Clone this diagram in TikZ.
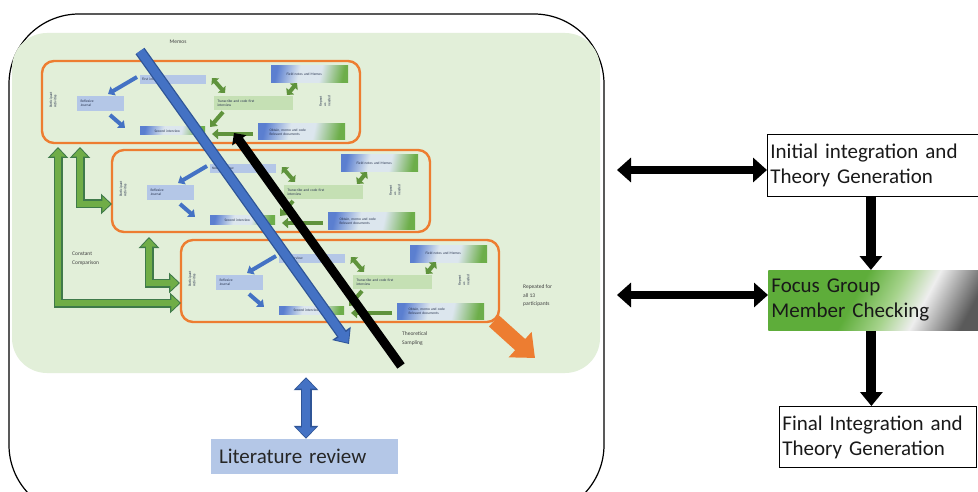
\documentclass[tikz,border=0pt]{standalone}
\usepackage{fontspec}
\setmainfont{Carlito}
\usetikzlibrary{arrows.meta}
\definecolor{procgreen}{HTML}{E2EFD9}
\definecolor{orangeln}{HTML}{ED7D31}
\definecolor{lblue}{HTML}{B4C7E7}
\definecolor{lgreen}{HTML}{C5E0B4}
\definecolor{ablue}{HTML}{4472C4}
\definecolor{ablueD}{HTML}{2F5597}
\definecolor{agreen}{HTML}{70AD47}
\definecolor{agreenD}{HTML}{3F7A4A}
\definecolor{txtgray}{HTML}{404040}
\definecolor{txtdark}{HTML}{2A3550}
\definecolor{shB}{HTML}{5B7FD0}
\definecolor{shM}{HTML}{DCE6EE}
\definecolor{shG}{HTML}{6DAE4A}
\definecolor{fcG}{HTML}{5EAD3A}
\definecolor{fcGl}{HTML}{A6D38C}
\definecolor{fcW}{HTML}{EEEEEE}
\definecolor{fcD}{HTML}{5A5A5A}
\pgfdeclarehorizontalshading{bgshade}{100bp}{color(0bp)=(shB); color(25bp)=(shB); color(42bp)=(shM); color(58bp)=(shM); color(75bp)=(shG); color(100bp)=(shG)}
\pgfdeclarehorizontalshading{focusshade}{100bp}{color(0bp)=(fcG); color(25bp)=(fcG); color(44bp)=(fcG); color(55bp)=(fcGl); color(64bp)=(fcW); color(78bp)=(fcD); color(100bp)=(fcD)}
\newcommand\tinyfnt{\fontsize{3.6}{4.2}\selectfont}
\newcommand\stagebox[4]{%
\begin{scope}[shift={(#2,#3)}]
\node[obox] (st#1) at (201,102) {};
\node[lbbox, minimum width=66pt, minimum height=9pt, text width=62pt] (fi#1) at (173,79.5) {#4};
\node[lbbox, minimum width=47pt, minimum height=15pt, text width=40pt] (rj#1) at (100.5,103.5) {Reflexive\\Journal};
\node[lgbox, minimum width=79pt, minimum height=14pt, text width=72pt] (tc#1) at (253.5,103) {Transcribe and code first\\interview};
\node[grbox, minimum width=77pt, minimum height=17pt, text width=62pt] (fn#1) at (309.5,74.5) {\hspace*{8pt}Field notes and Memos};
\node[grbox, minimum width=87pt, minimum height=16pt, text width=76pt] (ob#1) at (301.5,132) {\hspace*{6pt}Obtain, memo and code\\\hspace*{6pt}Relevant documents};
\node[grbox, minimum width=65pt, minimum height=8pt, text width=56pt] (si#1) at (172.5,131) {\hspace*{10pt}Second interview};
\node[tinytxt, rotate=90] (pa#1) at (53,100) {Participant\\Activities};
\node[tinytxt, rotate=90] (rp#1) at (325,101) {Repeat\\as\\needed};
\coordinate (a1s#1) at (137,77); \coordinate (a1e#1) at (108,94);
\coordinate (a2s#1) at (110,115); \coordinate (a2e#1) at (125,128);
\coordinate (g1s#1) at (212,78); \coordinate (g1e#1) at (225,93);
\coordinate (g2s#1) at (287,95); \coordinate (g2e#1) at (297,83);
\coordinate (g3s#1) at (223,112); \coordinate (g3e#1) at (210,127);
\coordinate (g4s#1) at (253,134); \coordinate (g4e#1) at (212,134);
\draw[sba] (a1s#1) -- (a1e#1);
\draw[sba] (a2s#1) -- (a2e#1);
\draw[sgd] (g1s#1) -- (g1e#1);
\draw[sgd] (g2s#1) -- (g2e#1);
\draw[sga] (g3s#1) -- (g3e#1);
\draw[sga] (g4s#1) -- (g4e#1);
\end{scope}}
\begin{document}
\begin{tikzpicture}[x=1pt,y=-1pt,
  obox/.style={draw=orangeln, line width=2.4pt, rounded corners=12pt, minimum width=318pt, minimum height=82pt, inner sep=0pt},
  lbbox/.style={fill=lblue, inner sep=2pt, font=\tinyfnt, text=txtdark, align=left},
  lgbox/.style={fill=lgreen, inner sep=2pt, font=\tinyfnt, text=txtdark, align=left},
  grbox/.style={shading=bgshade, shading angle=-12, inner sep=2pt, font=\tinyfnt, text=txtdark, align=left},
  tinytxt/.style={font=\tinyfnt, text=txtdark, align=left, inner sep=0pt},
  sba/.style={draw=ablue, line width=4pt, -{Triangle[width=10pt,length=6pt]}},
  sga/.style={draw=agreen!85!black, line width=4pt, -{Triangle[width=10pt,length=6pt]}},
  sgd/.style={draw=agreen!85!black, line width=4pt, {Triangle[width=10pt,length=5pt]}-{Triangle[width=10pt,length=5pt]}},
  lbl/.style={font=\fontsize{5.5}{8.5}\selectfont, text=txtgray, inner sep=0pt, align=left},
  gelbO/.style={draw=agreenD, line width=9pt, {Triangle[width=20pt,length=11pt]}-{Triangle[width=20pt,length=11pt]}},
  gelbI/.style={draw=agreen, line width=6pt, {Triangle[width=15pt,length=8pt]}-{Triangle[width=15pt,length=8pt]}, shorten <=1.6pt, shorten >=1.6pt},
  rbox/.style={draw=black, line width=0.8pt, font=\fontsize{21}{25}\selectfont, align=left, inner sep=3pt, text=black!90},
  bigdown/.style={draw=black, line width=10pt, -{Triangle[width=22pt,length=14pt]}},
  dblarrow/.style={draw=black, line width=8pt, {Triangle[width=24pt,length=14pt]}-{Triangle[width=24pt,length=14pt]}}
]
\useasboundingbox (0,0) rectangle (978,492);
\clip (0,0) rectangle (978,492);
\fill[white] (0,0) rectangle (978,492);

% outer frame and process area
\node[draw=black, line width=1.2pt, rounded corners=70pt, minimum width=595pt, minimum height=501pt, inner sep=0pt] (outer) at (306.5,264.5) {};
\node[fill=procgreen, rounded corners=35pt, minimum width=588pt, minimum height=340pt, inner sep=0pt] (proc) at (306,203) {};

% three stages
\stagebox{1}{0}{0}{First interview}
\stagebox{2}{70}{89}{Next interview}
\stagebox{3}{139}{179}{Next interview}

% green elbow arrows (constant comparison)
\coordinate (eA1) at (58,147); \coordinate (eA2) at (181,303);
\coordinate (eB1) at (80,147); \coordinate (eB2) at (112,204);
\coordinate (eC1) at (149,237); \coordinate (eC2) at (180,283);
\draw[gelbO] (eA1) -- (eA1 |- eA2) -- (eA2);
\draw[gelbI] (eA1) -- (eA1 |- eA2) -- (eA2);
\draw[gelbO] (eB1) -- (eB1 |- eB2) -- (eB2);
\draw[gelbI] (eB1) -- (eB1 |- eB2) -- (eB2);
\draw[gelbO] (eC1) -- (eC1 |- eC2) -- (eC2);
\draw[gelbI] (eC1) -- (eC1 |- eC2) -- (eC2);

% labels
\node[lbl] (memos) at (178,42) {Memos};
\node[lbl, anchor=west] (cc) at (72,258.5) {Constant\\Comparison};
\node[lbl, anchor=west] (ts) at (402,338.5) {Theoretical\\Sampling};
\node[lbl, anchor=west] (rep) at (523,296) {Repeated for\\all 13\\participants};

% memos diagonal (blue) and theoretical sampling diagonal (black)
\coordinate (memoS) at (140,51); \coordinate (memoE) at (349,344);
\draw[draw=ablueD, line width=11pt, -{Triangle[width=22pt,length=13pt]}] (memoS) -- (memoE);
\draw[draw=ablue, line width=8.4pt, -{Triangle[width=17pt,length=10pt]}, shorten >=1.4pt] (memoS) -- (memoE);
\coordinate (thS) at (401,366); \coordinate (thE) at (234,133);
\draw[draw=black, line width=9pt, -{Triangle[width=17pt,length=9pt]}] (thS) -- (thE);

% repeated arrow (orange)
\coordinate (orS) at (494,321); \coordinate (orE) at (535,358);
\draw[draw=orangeln, line width=15pt, -{Triangle[width=33pt,length=20pt]}] (orS) -- (orE);

% literature review
\node[fill=lblue, minimum width=187pt, minimum height=35pt, text width=171pt, inner sep=8pt, align=left, font=\fontsize{21}{24}\selectfont, text=black!85] (litrev) at (304.5,456.5) {Literature review};
\coordinate (litTop) at ([yshift=-4pt]proc.south);
\draw[draw=ablueD, line width=11pt, {Triangle[width=24pt,length=13pt]}-{Triangle[width=24pt,length=13pt]}] (litTop) -- (litTop |- litrev.north);
\draw[draw=ablue, line width=8.4pt, {Triangle[width=19pt,length=10pt]}-{Triangle[width=19pt,length=10pt]}, shorten <=1.4pt, shorten >=1.4pt] (litTop) -- (litTop |- litrev.north);

% right side
\node[rbox, fill=white, minimum width=213pt, minimum height=62pt, text width=207pt, anchor=north west] (init) at (767,134) {Initial integration and\\Theory Generation};
\node[rbox, draw=none, shading=focusshade, shading angle=-28, minimum width=212pt, minimum height=60pt, text width=206pt, anchor=north west] (focus) at (768,270) {Focus Group\\Member Checking};
\node[rbox, fill=white, minimum width=197pt, minimum height=61pt, text width=191pt, anchor=north west] (final) at (779,406) {Final Integration and\\Theory Generation};

\coordinate (lnk1) at (617,170);
\coordinate (lnk2) at (617,295);
\draw[dblarrow] (lnk1) -- (lnk1 -| init.west);
\draw[dblarrow] (lnk2) -- (lnk2 -| focus.west);
\coordinate (dn1) at ([xshift=-3pt]init.south);
\coordinate (dn2) at ([xshift=-3pt]focus.south);
\draw[bigdown] (dn1) -- (dn1 |- focus.north);
\draw[bigdown] (dn2) -- (dn2 |- final.north);
\end{tikzpicture}
\end{document}
